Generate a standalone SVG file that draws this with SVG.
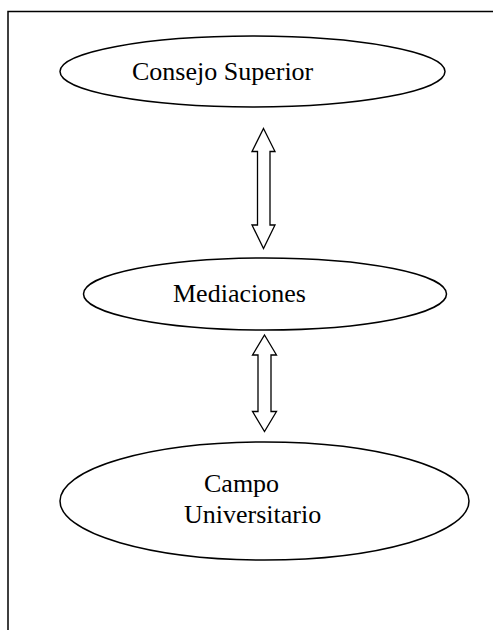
<svg xmlns="http://www.w3.org/2000/svg" width="493" height="630" viewBox="0 0 493 630">
<style>
.n{fill:#fff;stroke:#000;stroke-width:1.5}
.t{font-family:"Liberation Serif","Times New Roman",serif;font-size:26px;fill:#000}
.a{fill:#fff;stroke:#000;stroke-width:1.3;stroke-linejoin:miter}
</style>
<rect x="0" y="0" width="493" height="630" fill="#fff"/>
<rect x="8" y="11.5" width="500" height="640" fill="none" stroke="#000" stroke-width="1.5"/>
<g id="connectors">
<path class="a" d="M263.5,128.5 L275,151.5 L270,151.5 L270,225 L275,225 L263.5,248.5 L252,225 L257.5,225 L257.5,151.5 L252,151.5 Z"/>
<path class="a" d="M264.5,335 L276.5,355 L271,355 L271,411.5 L276.5,411.5 L264.5,431.5 L252.5,411.5 L258,411.5 L258,355 L252.5,355 Z"/>
</g>
<g id="consejo">
<ellipse class="n" cx="252.5" cy="71.5" rx="192.5" ry="35.5"/>
<text class="t" x="132" y="80">Consejo Superior</text>
</g>
<g id="mediaciones">
<ellipse class="n" cx="265" cy="294" rx="181.5" ry="36"/>
<text class="t" x="173" y="302">Mediaciones</text>
</g>
<g id="campo">
<ellipse class="n" cx="264.5" cy="501" rx="204.5" ry="59"/>
<text class="t" x="204" y="492">Campo</text>
<text class="t" x="184" y="523">Universitario</text>
</g>
</svg>
